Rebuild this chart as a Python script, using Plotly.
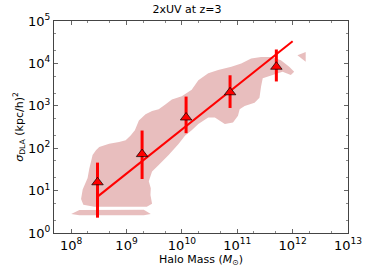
import plotly.graph_objects as go

# Halo mass bins, median cross-section and 1-sigma range
mass = [2.99e8, 1.91e9, 1.19e10, 7.41e10, 5.08e11]
sigma = [15.7, 72.6, 530, 2085, 8340]
sigma_hi = [45.7, 261, 1650, 5250, 21300]
sigma_lo = [2.3, 18.8, 226, 889, 3750]

# power-law fit
fit_mass = [3.0e8, 1.0e12]
fit_sigma = [7.2, 33400]

# tick positions / labels
x_tickvals = [1e8, 1e9, 1e10, 1e11, 1e12, 1e13]
x_ticktext = ["10<sup>8</sup>", "10<sup>9</sup>", "10<sup>10</sup>", "10<sup>11</sup>",
              "10<sup>12</sup>", "10<sup>13</sup>"]
y_tickvals = [1, 10, 100, 1e3, 1e4, 1e5]
y_ticktext = ["10<sup>0</sup>", "10<sup>1</sup>", "10<sup>2</sup>", "10<sup>3</sup>",
              "10<sup>4</sup>", "10<sup>5</sup>"]

# scatter region (log10 mass, log10 sigma) outline of halo distribution
region_logm = [8.387, 8.448, 8.507, 8.686, 8.865, 8.985, 9.074, 9.151, 9.223, 9.343,
               9.461, 9.581, 9.701, 9.819, 9.998, 10.177, 10.297, 10.476, 10.655, 10.893,
               11.072, 11.251, 11.430, 11.609, 11.788, 11.938, 12.028, 11.967, 11.818, 11.550,
               11.460, 11.430, 11.401, 11.312, 11.133, 11.043, 11.013, 10.923, 10.775, 10.685,
               10.596, 10.476, 10.386, 10.297, 10.177, 10.059, 9.939, 9.760, 9.581, 9.461,
               9.402, 9.438, 9.432, 9.461, 9.366, 8.417, 8.220, 8.179, 8.208, 8.256,
               8.297, 8.328, 8.358]
region_logs = [1.838, 1.954, 2.030, 2.106, 2.146, 2.185, 2.301, 2.424, 2.655, 2.801,
               2.880, 2.917, 3.032, 3.148, 3.227, 3.380, 3.604, 3.766, 3.843, 3.921,
               3.998, 4.113, 4.153, 4.153, 4.074, 3.921, 3.806, 3.727, 3.806, 3.690,
               3.650, 3.458, 3.188, 3.072, 2.995, 2.917, 2.764, 2.609, 2.569, 2.648,
               2.725, 2.725, 2.648, 2.569, 2.424, 2.301, 2.100, 1.838, 1.606, 1.451,
               1.220, 1.058, 0.896, 0.688, 0.618, 0.618, 0.664, 0.803, 1.028, 1.197,
               1.296, 1.521, 1.683]
strip_logm = [8.000, 8.149, 9.312, 9.438, 9.312, 8.149]
strip_logs = [0.449, 0.542, 0.549, 0.449, 0.421, 0.421]
blob_logm = [12.087, 12.236, 12.236]
blob_logs = [4.190, 4.269, 4.037]

FILL = "rgb(232,190,190)"
FONT = "DejaVu Sans"

fig = go.Figure()
for lm, ls in [(region_logm, region_logs), (strip_logm, strip_logs), (blob_logm, blob_logs)]:
    fig.add_trace(go.Scatter(
        x=[10 ** v for v in lm], y=[10 ** v for v in ls],
        mode="lines", fill="toself", fillcolor=FILL,
        line=dict(width=0, color=FILL), hoverinfo="skip", showlegend=False))

fig.add_trace(go.Scatter(x=fit_mass, y=fit_sigma, mode="lines",
                         line=dict(color="red", width=2), showlegend=False))

fig.add_trace(go.Scatter(
    x=mass, y=sigma, mode="markers",
    marker=dict(symbol="triangle-up", size=10, color="red",
                line=dict(color="black", width=0.7)),
    error_y=dict(type="data", symmetric=False,
                 array=[h - s for h, s in zip(sigma_hi, sigma)],
                 arrayminus=[s - l for s, l in zip(sigma, sigma_lo)],
                 color="red", thickness=3, width=0),
    showlegend=False))

axis_common = dict(
    type="log", showgrid=False, zeroline=False,
    showline=True, linecolor="#444", linewidth=1, mirror="allticks",
    ticks="inside", ticklen=4, tickcolor="#666",
    tickfont=dict(family=FONT, size=13, color="black"),
    minor=dict(ticks="inside", ticklen=2, tickcolor="#888", showgrid=False),
)

fig.update_layout(
    width=374, height=274,
    margin=dict(l=54, r=23, t=17, b=41),
    paper_bgcolor="white", plot_bgcolor="white",
    font=dict(family=FONT, size=11, color="black"),
    title=dict(text="2xUV at z=3", x=0.5, xanchor="center", y=0.967, yanchor="middle",
               font=dict(family=FONT, size=11, color="black")),
    xaxis=dict(axis_common, range=[7.69, 13], tickvals=x_tickvals, ticktext=x_ticktext,
               title=dict(text="Halo Mass (<i>M</i><sub>⊙</sub>)", standoff=0,
                          font=dict(family=FONT, size=11))),
    yaxis=dict(axis_common, range=[0, 5], tickvals=y_tickvals, ticktext=y_ticktext,
               title=dict(text="<i>σ</i><sub>DLA</sub> (kpc/h)<sup>2</sup>", standoff=2,
                          font=dict(family=FONT, size=11))),
)

fig.write_html("out.html", config={"displayModeBar": False},
               post_script="document.body.style.margin='0';")
